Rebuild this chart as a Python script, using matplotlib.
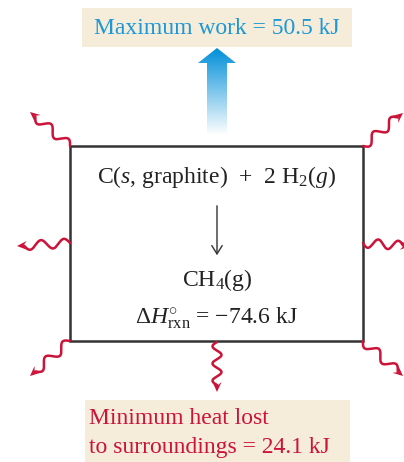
import numpy as np
import matplotlib
matplotlib.use("Agg")
import matplotlib.pyplot as plt
from matplotlib.patches import Rectangle, Polygon, FancyArrowPatch

plt.rcParams['font.family'] = ['Liberation Serif', 'DejaVu Serif']
plt.rcParams['mathtext.fontset'] = 'custom'
plt.rcParams['mathtext.rm'] = 'Liberation Serif'
plt.rcParams['mathtext.it'] = 'Liberation Serif:italic'

# values shown in the diagram
max_work_kj = 50.5
dh_rxn_kj = -74.6
min_heat_kj = 24.1
reactants = r"C($\mathit{s}$, graphite)  +  2 H$_2$($\mathit{g}$)"
product = r"CH$_4$(g)"

W, H = 404, 462
blue = '#1C98D6'
red = '#CC1339'
panel = '#F5ECDA'
ink = '#222222'
fs = 17

fig = plt.figure(figsize=(W / 100, H / 100), dpi=100)
ax = fig.add_axes([0, 0, 1, 1])
ax.set_xlim(0, W)
ax.set_ylim(H, 0)
ax.axis('off')

# --- top label ---
ax.add_patch(Rectangle((82, 8), 270, 39, facecolor=panel, edgecolor='none'))
ax.text(217, 28, f"Maximum work = {max_work_kj} kJ", color=blue, fontsize=fs,
        ha='center', va='center')

# --- blue gradient arrow (work) ---
arrow_pts = [(207, 135), (207, 63), (198, 63), (217, 48), (236, 63), (227, 63), (227, 135)]
poly = Polygon(arrow_pts, closed=True, facecolor='none', edgecolor='none')
ax.add_patch(poly)
grad = np.linspace(0, 1, 256).reshape(-1, 1)
top_c = np.array([0.0, 0.56, 0.85])
bot_c = np.array([1.0, 1.0, 1.0])
img = top_c[None, None, :] * (1 - grad[:, :, None]) + bot_c[None, None, :] * grad[:, :, None]
img = np.repeat(img, 2, axis=1)
im = ax.imshow(img, extent=(198, 236, 135, 48), aspect='auto', zorder=2)
im.set_clip_path(poly)

# --- system box ---
ax.add_patch(Rectangle((70, 146), 293, 195, facecolor='none', edgecolor='#333333',
                       linewidth=1.8, zorder=3))

ax.text(217, 177, reactants, fontsize=fs, ha='center', va='center', color=ink)
ax.add_patch(FancyArrowPatch((217, 203), (217, 258), arrowstyle='->,head_length=4,head_width=2.5',
                             color='#333333', linewidth=1, mutation_scale=1.5))
ax.text(217, 280, product, fontsize=fs, ha='center', va='center', color=ink)
ax.text(217, 318, r"$\Delta\mathit{H}^{\circ}_{\mathrm{rxn}}$" + f" = \u2212{abs(dh_rxn_kj)} kJ",
        fontsize=fs, ha='center', va='center', color=ink)


# --- wavy heat arrows ---
def wavy(x0, y0, x1, y1, waves=2.0, amp=4.5):
    d = np.array([x1 - x0, y1 - y0], dtype=float)
    L = np.hypot(*d)
    u = d / L
    n = np.array([-u[1], u[0]])
    head = 10
    t = np.linspace(0, L - head * 0.7, 200)
    off = amp * np.sin(2 * np.pi * waves * t / (L - head * 0.7))
    xs = x0 + u[0] * t + n[0] * off
    ys = y0 + u[1] * t + n[1] * off
    ax.plot(xs, ys, color=red, linewidth=1.8, solid_capstyle='round', zorder=4)
    tip = np.array([x1, y1])
    base = tip - u * head
    notch = tip - u * head * 0.6
    pts = [tip, base + n * 4.5, notch, base - n * 4.5]
    ax.add_patch(Polygon(pts, closed=True, facecolor=red, edgecolor='none', zorder=4))


wavy(70, 146, 30, 112)
wavy(363, 146, 403, 113)
wavy(70, 243, 17, 246)
wavy(363, 243, 410, 246)
wavy(70, 341, 30, 376)
wavy(363, 341, 403, 376)
wavy(217, 342, 217, 392, waves=2.5)

# --- bottom label ---
ax.add_patch(Rectangle((85, 400), 265, 62, facecolor=panel, edgecolor='none'))
ax.text(89, 419, "Minimum heat lost", color=red, fontsize=fs, ha='left', va='center')
ax.text(89, 447, f"to surroundings = {min_heat_kj} kJ", color=red, fontsize=fs,
        ha='left', va='center')

fig.savefig('out.png', dpi=100)
